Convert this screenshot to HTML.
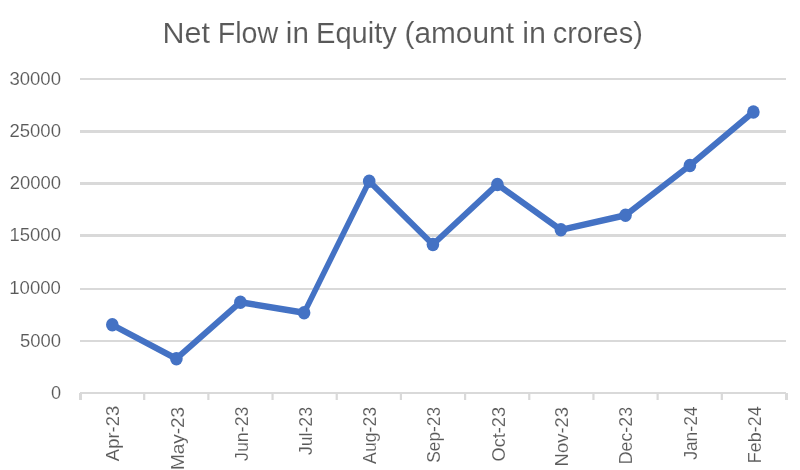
<!DOCTYPE html><html><head><meta charset="utf-8"><title>Net Flow in Equity</title>
<style>html,body{margin:0;padding:0;background:#fff}svg{display:block}text{font-family:"Liberation Sans",sans-serif;fill:#595959;stroke:#fff;stroke-width:.12px}.t{stroke-width:.12px}</style></head><body>
<svg width="800" height="470" viewBox="0 0 800 470">
<rect width="800" height="470" fill="#fff"/>
<rect x="80.0" y="78" width="706.0" height="2" fill="#d9d9d9"/>
<rect x="80.0" y="130" width="706.0" height="3" fill="#d9d9d9"/>
<rect x="80.0" y="182" width="706.0" height="3" fill="#d9d9d9"/>
<rect x="80.0" y="234" width="706.0" height="3" fill="#d9d9d9"/>
<rect x="80.0" y="288" width="706.0" height="2" fill="#d9d9d9"/>
<rect x="80.0" y="340" width="706.0" height="2" fill="#d9d9d9"/>
<rect x="80.0" y="392" width="706.0" height="2" fill="#d9d9d9"/>
<rect x="79.00" y="393" width="3" height="7" fill="#d9d9d9"/>
<rect x="143.08" y="393" width="2.2" height="7" fill="#d9d9d9"/>
<rect x="207.26" y="393" width="2.2" height="7" fill="#d9d9d9"/>
<rect x="271.45" y="393" width="2.2" height="7" fill="#d9d9d9"/>
<rect x="335.63" y="393" width="2.2" height="7" fill="#d9d9d9"/>
<rect x="399.81" y="393" width="2.2" height="7" fill="#d9d9d9"/>
<rect x="463.99" y="393" width="2.2" height="7" fill="#d9d9d9"/>
<rect x="528.17" y="393" width="2.2" height="7" fill="#d9d9d9"/>
<rect x="592.35" y="393" width="2.2" height="7" fill="#d9d9d9"/>
<rect x="656.54" y="393" width="2.2" height="7" fill="#d9d9d9"/>
<rect x="720.72" y="393" width="2.2" height="7" fill="#d9d9d9"/>
<rect x="785.00" y="393" width="3" height="7" fill="#d9d9d9"/>
<text x="50.92" y="398.6" font-size="18.3" textLength="10.09" lengthAdjust="spacingAndGlyphs">0</text>
<text x="19.91" y="346.6" font-size="18.5" textLength="41.07" lengthAdjust="spacingAndGlyphs">5000</text>
<text x="9.27" y="293.8" font-size="17.5" textLength="51.69" lengthAdjust="spacingAndGlyphs">10000</text>
<text x="9.48" y="240.8" font-size="17.5" textLength="51.48" lengthAdjust="spacingAndGlyphs">15000</text>
<text x="9.65" y="188.8" font-size="17.5" textLength="51.31" lengthAdjust="spacingAndGlyphs">20000</text>
<text x="9.44" y="136.8" font-size="17.5" textLength="51.52" lengthAdjust="spacingAndGlyphs">25000</text>
<text x="9.41" y="84.8" font-size="18.5" textLength="51.56" lengthAdjust="spacingAndGlyphs">30000</text>
<text class="t" y="42.8" font-size="28.8"><tspan x="162.62" textLength="47.41" lengthAdjust="spacingAndGlyphs">Net</tspan> <tspan x="217.66" textLength="60.5" lengthAdjust="spacingAndGlyphs">Flow</tspan> <tspan x="285.85" textLength="23.03" lengthAdjust="spacingAndGlyphs">in</tspan> <tspan x="316.03" textLength="80.92" lengthAdjust="spacingAndGlyphs">Equity</tspan> <tspan x="404.49" textLength="109.46" lengthAdjust="spacingAndGlyphs">(amount</tspan> <tspan x="522.28" textLength="23.76" lengthAdjust="spacingAndGlyphs">in</tspan> <tspan x="552.74" textLength="90.13" lengthAdjust="spacingAndGlyphs">crores)</tspan></text>
<g transform="scale(1,1.2)">
<polyline fill="none" stroke="#4472c4" stroke-width="5.4" stroke-linejoin="round" stroke-linecap="round" points="112.30,270.71 176.40,298.92 240.40,251.83 304.10,260.67 369.20,151.08 432.90,203.75 497.40,153.67 560.90,191.54 625.50,179.33 689.90,137.83 753.40,93.33"/>
</g>
<ellipse cx="112.30" cy="324.85" rx="6.3" ry="6.75" fill="#4472c4"/>
<ellipse cx="176.40" cy="358.70" rx="6.3" ry="6.75" fill="#4472c4"/>
<ellipse cx="240.40" cy="302.20" rx="6.3" ry="6.75" fill="#4472c4"/>
<ellipse cx="304.10" cy="312.80" rx="6.3" ry="6.75" fill="#4472c4"/>
<ellipse cx="369.20" cy="181.30" rx="6.3" ry="6.75" fill="#4472c4"/>
<ellipse cx="432.90" cy="244.50" rx="6.3" ry="6.75" fill="#4472c4"/>
<ellipse cx="497.40" cy="184.40" rx="6.3" ry="6.75" fill="#4472c4"/>
<ellipse cx="560.90" cy="229.85" rx="6.3" ry="6.75" fill="#4472c4"/>
<ellipse cx="625.50" cy="215.20" rx="6.3" ry="6.75" fill="#4472c4"/>
<ellipse cx="689.90" cy="165.40" rx="6.3" ry="6.75" fill="#4472c4"/>
<ellipse cx="753.40" cy="112.00" rx="6.3" ry="6.75" fill="#4472c4"/>
<text transform="translate(119.3,461.2) rotate(-90)" x="0.0" y="0" font-size="18.2" textLength="55.56" lengthAdjust="spacingAndGlyphs">Apr-23</text>
<text transform="translate(183.7,468.5) rotate(-90)" x="-1.56" y="0" font-size="18.2" textLength="63.21" lengthAdjust="spacingAndGlyphs">May-23</text>
<text transform="translate(247.5,460.7) rotate(-90)" x="-0.24" y="0" font-size="18.2" textLength="54.4" lengthAdjust="spacingAndGlyphs">Jun-23</text>
<text transform="translate(312.0,454.8) rotate(-90)" x="-0.24" y="0" font-size="18.2" textLength="48.01" lengthAdjust="spacingAndGlyphs">Jul-23</text>
<text transform="translate(376.2,463.9) rotate(-90)" x="0.0" y="0" font-size="18.2" textLength="56.98" lengthAdjust="spacingAndGlyphs">Aug-23</text>
<text transform="translate(440.2,462) rotate(-90)" x="-0.71" y="0" font-size="18.2" textLength="55.77" lengthAdjust="spacingAndGlyphs">Sep-23</text>
<text transform="translate(504.5,460.7) rotate(-90)" x="-0.75" y="0" font-size="18.2" textLength="54.49" lengthAdjust="spacingAndGlyphs">Oct-23</text>
<text transform="translate(568.4,464.9) rotate(-90)" x="-1.52" y="0" font-size="18.2" textLength="59.53" lengthAdjust="spacingAndGlyphs">Nov-23</text>
<text transform="translate(632.4,462.8) rotate(-90)" x="-1.47" y="0" font-size="18.2" textLength="57.34" lengthAdjust="spacingAndGlyphs">Dec-23</text>
<text transform="translate(696.6,459.6) rotate(-90)" x="-0.24" y="0" font-size="18.2" textLength="53.44" lengthAdjust="spacingAndGlyphs">Jan-24</text>
<text transform="translate(760.9,461.7) rotate(-90)" x="-1.48" y="0" font-size="18.2" textLength="56.81" lengthAdjust="spacingAndGlyphs">Feb-24</text>
</svg></body></html>
